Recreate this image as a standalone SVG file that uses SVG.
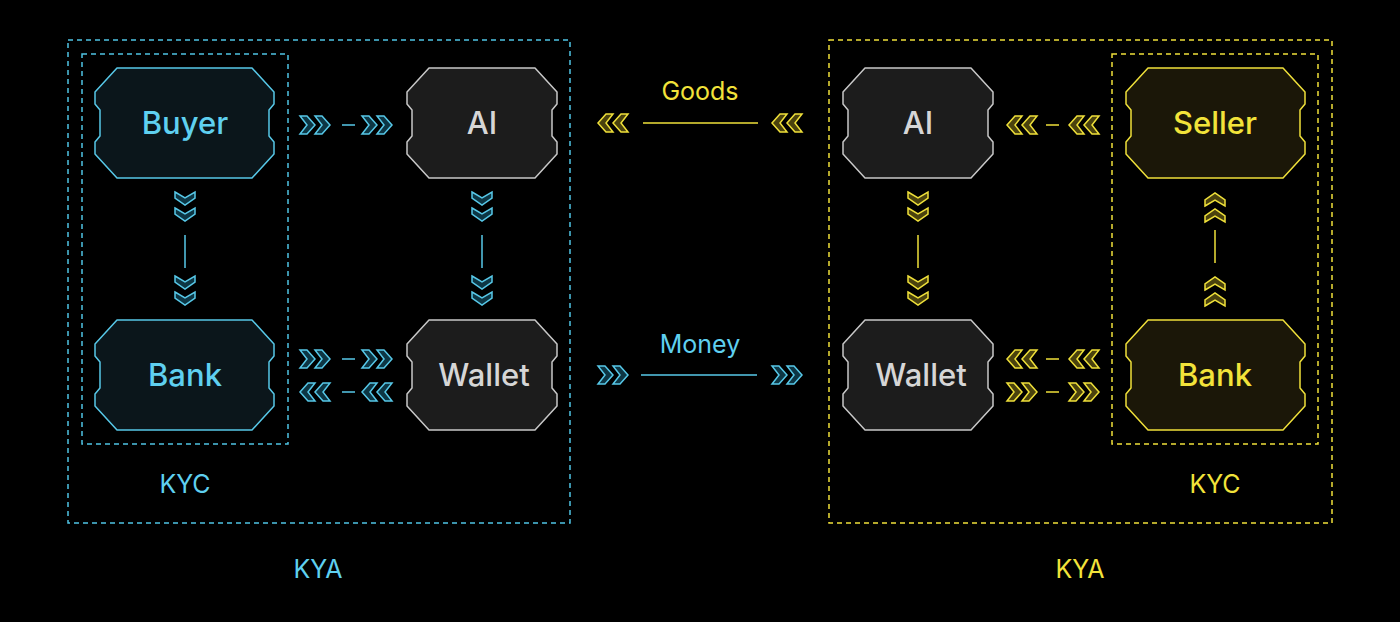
<svg xmlns="http://www.w3.org/2000/svg" xmlns:xlink="http://www.w3.org/1999/xlink" width="1400" height="622" viewBox="0 0 1400 622">
<style>
.bg{fill:#000}
.box{fill:none;stroke-width:1.5;stroke-dasharray:5 4}
.bl{stroke:#4fc3e3}
.yl{stroke:#efe03a}
.nb{fill:#0b161b;stroke:#57c8e8;stroke-width:1.5;stroke-linejoin:round}
.ng{fill:#1c1c1c;stroke:#c8c8c8;stroke-width:1.5;stroke-linejoin:round}
.ny{fill:#1b1708;stroke:#efe03a;stroke-width:1.5;stroke-linejoin:round}
.lbl{font-family:Inter,"Liberation Sans",sans-serif;font-size:31px;font-weight:500;text-anchor:middle}
.sm{font-family:Inter,"Liberation Sans",sans-serif;font-size:25px;text-anchor:middle}
.tb{fill:#5fd0f0}
.tg{fill:#d6d6d6}
.ty{fill:#f2e33a}
.cb{fill:#0d3644;stroke:#57c8e8;stroke-width:1.5;stroke-linejoin:miter}
.cy{fill:#4a420e;stroke:#efe03a;stroke-width:1.5;stroke-linejoin:miter}
.lnb{stroke:#57c8e8;stroke-width:1.5}
.lny{stroke:#efe03a;stroke-width:1.5}
</style>
<defs>
<path id="wide" d="M22,0 L157,0 L179,24 L179,36 L174,42 L174,68 L179,74 L179,86 L157,110 L22,110 L0,86 L0,74 L5,68 L5,42 L0,36 L0,24 Z"/>
<path id="narrow" d="M22,0 L128,0 L150,24 L150,36 L145,42 L145,68 L150,74 L150,86 L128,110 L22,110 L0,86 L0,74 L5,68 L5,42 L0,36 L0,24 Z"/>
<g id="dblR"><path d="M0,-9 L7,-9 L15,0 L7,9 L0,9 L7,0 Z"/><path d="M15,-9 L22,-9 L30,0 L22,9 L15,9 L22,0 Z"/></g>
<g id="dblL"><path d="M15,-9 L8,-9 L0,0 L8,9 L15,9 L8,0 Z"/><path d="M30,-9 L23,-9 L15,0 L23,9 L30,9 L23,0 Z"/></g>
<g id="dblD"><path d="M-10,0 L0,6 L10,0 L10,6 L0,13 L-10,6 Z"/><path d="M-10,16 L0,22 L10,16 L10,22 L0,29 L-10,22 Z"/></g>
<g id="dblU"><path d="M-10,13 L0,7 L10,13 L10,7 L0,0 L-10,7 Z"/><path d="M-10,29 L0,23 L10,29 L10,23 L0,16 L-10,23 Z"/></g>
</defs>
<rect class="bg" x="0" y="0" width="1400" height="622"/>

<g id="groups">
<rect class="box bl" x="68" y="40" width="502" height="483"/>
<rect class="box bl" x="82" y="54" width="206" height="390"/>
<rect class="box yl" x="829" y="40" width="503" height="483"/>
<rect class="box yl" x="1112" y="54" width="206" height="390"/>
<text class="sm tb" x="185" y="493">KYC</text>
<text class="sm tb" x="318" y="578">KYA</text>
<text class="sm ty" x="1215" y="493">KYC</text>
<text class="sm ty" x="1080" y="578">KYA</text>
</g>

<g id="connectors">
<g class="cb">
<use xlink:href="#dblR" x="300" y="125"/><use xlink:href="#dblR" x="362" y="125"/>
<use xlink:href="#dblR" x="300" y="359"/><use xlink:href="#dblR" x="362" y="359"/>
<use xlink:href="#dblL" x="300" y="392"/><use xlink:href="#dblL" x="362" y="392"/>
<use xlink:href="#dblR" x="598" y="375"/><use xlink:href="#dblR" x="772" y="375"/>
<use xlink:href="#dblD" x="185" y="192"/><use xlink:href="#dblD" x="185" y="276"/>
<use xlink:href="#dblD" x="482" y="192"/><use xlink:href="#dblD" x="482" y="276"/>
</g>
<g class="lnb">
<line x1="342" y1="125" x2="355" y2="125"/>
<line x1="342" y1="359" x2="355" y2="359"/>
<line x1="342" y1="392" x2="355" y2="392"/>
<line x1="641" y1="375" x2="757" y2="375"/>
<line x1="185" y1="235" x2="185" y2="268"/>
<line x1="482" y1="235" x2="482" y2="268"/>
</g>
<g class="cy">
<use xlink:href="#dblL" x="598" y="123"/><use xlink:href="#dblL" x="772" y="123"/>
<use xlink:href="#dblL" x="1007" y="125"/><use xlink:href="#dblL" x="1069" y="125"/>
<use xlink:href="#dblL" x="1007" y="359"/><use xlink:href="#dblL" x="1069" y="359"/>
<use xlink:href="#dblR" x="1007" y="392"/><use xlink:href="#dblR" x="1069" y="392"/>
<use xlink:href="#dblD" x="918" y="192"/><use xlink:href="#dblD" x="918" y="276"/>
<use xlink:href="#dblU" x="1215" y="193"/><use xlink:href="#dblU" x="1215" y="277"/>
</g>
<g class="lny">
<line x1="643" y1="123" x2="758" y2="123"/>
<line x1="1046" y1="125" x2="1059" y2="125"/>
<line x1="1046" y1="359" x2="1059" y2="359"/>
<line x1="1046" y1="392" x2="1059" y2="392"/>
<line x1="918" y1="235" x2="918" y2="268"/>
<line x1="1215" y1="230" x2="1215" y2="263"/>
</g>
<text class="sm ty" x="700" y="100">Goods</text>
<text class="sm tb" x="700" y="353">Money</text>
</g>

<g id="buyer"><use xlink:href="#wide" x="95" y="68" class="nb"/><text class="lbl tb" x="185" y="134">Buyer</text></g>
<g id="bank-left"><use xlink:href="#wide" x="95" y="320" class="nb"/><text class="lbl tb" x="185" y="386">Bank</text></g>
<g id="ai-left"><use xlink:href="#narrow" x="407" y="68" class="ng"/><text class="lbl tg" x="482" y="134">AI</text></g>
<g id="wallet-left"><use xlink:href="#narrow" x="407" y="320" class="ng"/><text class="lbl tg" x="484" y="386">Wallet</text></g>
<g id="ai-right"><use xlink:href="#narrow" x="843" y="68" class="ng"/><text class="lbl tg" x="918" y="134">AI</text></g>
<g id="wallet-right"><use xlink:href="#narrow" x="843" y="320" class="ng"/><text class="lbl tg" x="921" y="386">Wallet</text></g>
<g id="seller"><use xlink:href="#wide" x="1126" y="68" class="ny"/><text class="lbl ty" x="1215" y="134">Seller</text></g>
<g id="bank-right"><use xlink:href="#wide" x="1126" y="320" class="ny"/><text class="lbl ty" x="1215" y="386">Bank</text></g>
</svg>
